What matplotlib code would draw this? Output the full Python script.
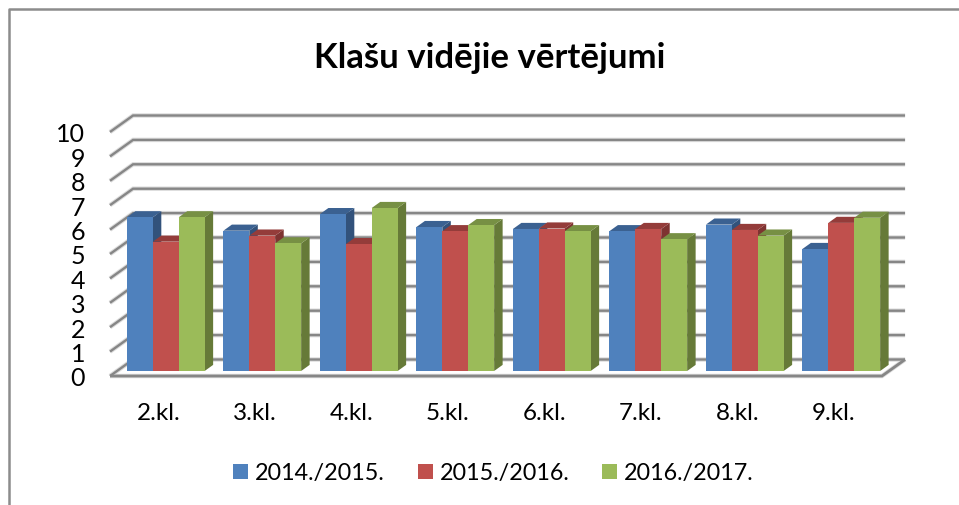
import matplotlib
matplotlib.use('Agg')
import matplotlib.pyplot as plt
from matplotlib.lines import Line2D
from matplotlib.patches import Patch
import numpy as np

plt.rcParams['font.family'] = ['Lato', 'DejaVu Sans']

klases = ['2.kl.', '3.kl.', '4.kl.', '5.kl.', '6.kl.', '7.kl.', '8.kl.', '9.kl.']
gadi = ['2014./2015.', '2015./2016.', '2016./2017.']
v2014 = [6.3, 5.75, 6.43, 5.9, 5.82, 5.73, 6.0, 5.0]
v2015 = [5.3, 5.55, 5.2, 5.73, 5.84, 5.82, 5.78, 6.07]
v2016 = [6.3, 5.23, 6.68, 5.98, 5.73, 5.4, 5.55, 6.28]
y_ticks = list(range(11))

front = ['#4f81bd', '#c0504d', '#9bbb59']
tops = ['#3b6191', '#943c3a', '#779044']
sides = ['#32527b', '#7e3331', '#667a38']
GRID = '#868686'

W, H = 959, 506
fig = plt.figure(figsize=(W / 100, H / 100), dpi=100)
ax = fig.add_axes([110 / W, 1 - 377 / H, 772 / W, 244 / H])
ax.set_xlim(-0.5, 7.5)
ax.set_ylim(0, 10)
for s in ax.spines.values():
    s.set_visible(False)

# depth of the floor and of one bar, in data units
fx, fy = 0.239, 0.676
bx, by = 0.088, 0.25
# bars stand a little behind the front edge of the floor
x0, y0 = -0.012, 0.205
bw = 0.2685


def grid_line(pts, **kw):
    xs, ys = zip(*pts)
    ax.plot(xs, ys, clip_on=False, solid_capstyle='butt', solid_joinstyle='miter', **kw)


for v in y_ticks:
    pts = [(-0.5, v), (-0.5 + fx, v + fy), (7.5 + fx, v + fy)]
    grid_line(pts, color='#dcdcdc', lw=3.2, zorder=1)
    grid_line(pts, color=GRID, lw=1.7, zorder=1.5)
grid_line([(-0.5, 0), (7.5, 0), (7.5 + fx, fy)], color='#dcdcdc', lw=3.2, zorder=1)
grid_line([(-0.5, 0), (7.5, 0), (7.5 + fx, fy)], color=GRID, lw=2, zorder=1.5)

z = 2
for i in range(len(klases)):
    for j, vals in enumerate([v2014, v2015, v2016]):
        xl = i + x0 + (j - 1.5) * bw + 0.09
        top = vals[i] + y0
        xr = xl + bw
        ax.fill([xr, xr + bx, xr + bx, xr], [y0, y0 + by, top + by, top],
                color=sides[j], lw=0, zorder=z, clip_on=False)
        ax.fill([xl, xl + bx, xr + bx, xr], [top, top + by, top + by, top],
                color=tops[j], lw=0, zorder=z, clip_on=False)
        ax.bar(xl, vals[i], bw, bottom=y0, align='edge', color=front[j], lw=0,
               zorder=z + 0.5, clip_on=False)
        z += 1

ax.set_yticks(y_ticks)
ax.set_yticklabels(y_ticks, fontsize=18, color='black')
ax.set_xticks(range(len(klases)))
ax.set_xticklabels(klases, fontsize=17.5, color='black')
ax.tick_params(axis='y', length=0, pad=18)
ax.tick_params(axis='x', length=0, pad=19)

fig.text(489.5 / W, 1 - 58 / H, 'Klašu vidējie vērtējumi', fontsize=25, fontweight='bold',
         ha='center', va='center')

handles = [Patch(color=c, lw=0) for c in front]
fig.legend(handles, gadi, loc='center', bbox_to_anchor=(493.5 / W, 1 - 474 / H), ncol=3,
           frameon=False, fontsize=16.8, handlelength=0.65, handleheight=0.65,
           handletextpad=0.3, columnspacing=1.4, borderpad=0)

# chart border, only left and top are visible
fig.add_artist(Line2D([8.5 / W, 8.5 / W, 1], [0, 1 - 10 / H, 1 - 10 / H],
                      color='#8c8c8c', lw=1.8, transform=fig.transFigure))

fig.savefig('out.png', dpi=100)
